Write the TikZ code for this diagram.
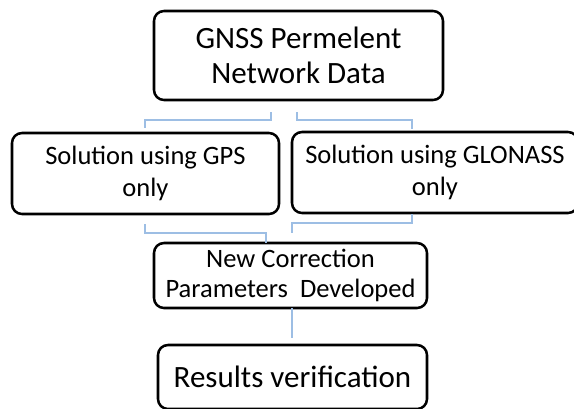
\documentclass[tikz,border=0pt]{standalone}
\usepackage{fontspec}
\setmainfont{Carlito}
\definecolor{linkblue}{RGB}{157,190,228}
\tikzset{
  box/.style={draw=black, line width=1.9pt, rounded corners=7.5pt, fill=white,
    align=center, inner sep=0pt},
  link/.style={draw=linkblue, line width=2pt},
  bigtext/.style={font=\fontsize{23.25pt}{26.25pt}\selectfont},
  midtext/.style={font=\fontsize{19.9pt}{24pt}\selectfont},
  midtextb/.style={font=\fontsize{19.9pt}{22.5pt}\selectfont},
}
\begin{document}
\begin{tikzpicture}[x=0.75pt,y=-0.75pt]
\useasboundingbox (0,0) rectangle (574,408);
\clip (0,0) rectangle (574,408);
\node[box, bigtext, minimum width=289*0.75pt, minimum height=89*0.75pt] (top) at (298.5,55.5) {GNSS Permelent\\Network Data};
\node[box, midtext, minimum width=267*0.75pt, minimum height=81*0.75pt] (gps) at (145.5,173.5) {Solution using GPS\\only};
\node[box, midtext, minimum width=286*0.75pt, minimum height=81*0.75pt] (glo) at (435,172.5) {Solution using GLONASS\\only};
\node[box, midtextb, minimum width=273*0.75pt, minimum height=65*0.75pt] (new) at (290.5,275.5) {New Correction\\Parameters\ \ Developed};
\node[box, bigtext, minimum width=269*0.75pt, minimum height=64*0.75pt] (res) at (292.5,377) {Results verification};
% free ends of connectors
\coordinate (tL) at (271,112);
\coordinate (tR) at (297,112);
\coordinate (gpsT) at (145,128);
\coordinate (gloT) at (412,129);
\coordinate (gpsB) at (145,224);
\coordinate (gloB) at (412,214);
\coordinate (newTL) at (266,243);
\coordinate (newTR) at (292,233);
\coordinate (newB) at (292,308);
\coordinate (resT) at (292,338);
\draw[link] (tL) -- ++(0,8) -| (gpsT);
\draw[link] (tR) -- ++(0,8) -| (gloT);
\draw[link] (gpsB) -- ++(0,9) -| (newTL);
\draw[link] (gloB) -- ++(0,9) -| (newTR);
\draw[link] (newB) -- (resT);
\end{tikzpicture}
\end{document}
